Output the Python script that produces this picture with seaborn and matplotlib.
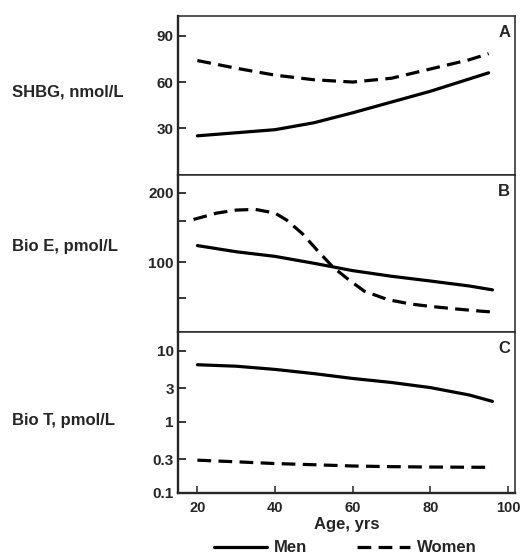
import numpy as np
import pandas as pd
import matplotlib
matplotlib.use("Agg")
import matplotlib.pyplot as plt
from matplotlib.lines import Line2D
from matplotlib.ticker import NullLocator
import seaborn as sns

# Panel A: SHBG, nmol/L
shbg_age_men = [20, 30, 40, 50, 60, 70, 80, 90, 95]
shbg_men = [25, 27, 29, 33.5, 40, 47, 54, 62, 66]
shbg_age_women = [20, 30, 40, 50, 60, 70, 80, 90, 95]
shbg_women = [74, 69, 64.5, 61.5, 60, 62.5, 68.5, 74.5, 78.5]

# Panel B: Bio E, pmol/L
bioe_age_men = [20, 30, 40, 50, 60, 70, 80, 90, 96]
bioe_men = [118, 111, 106, 99, 92, 87, 83, 79, 76]
bioe_age_women = [19, 25, 30, 35, 40, 43, 47, 51, 55, 59, 63, 69, 75, 80, 86, 93, 96]
bioe_women = [153, 163, 168, 169, 163, 152, 133, 112, 95, 84, 75, 69, 66, 64.5, 63, 61.5, 61]

# Panel C: Bio T, pmol/L
biot_age_men = [20, 30, 40, 50, 60, 70, 80, 90, 96]
biot_men = [6.4, 6.1, 5.5, 4.8, 4.1, 3.6, 3.05, 2.4, 1.95]
biot_age_women = [20, 30, 40, 50, 60, 70, 80, 96]
biot_women = [0.29, 0.275, 0.26, 0.25, 0.24, 0.235, 0.232, 0.23]

labels = ["SHBG, nmol/L", "Bio E, pmol/L", "Bio T, pmol/L"]
letters = ["A", "B", "C"]


def make_df(age_m, val_m, age_w, val_w):
    return pd.DataFrame({
        "age": list(age_m) + list(age_w),
        "value": list(val_m) + list(val_w),
        "sex": ["Men"] * len(age_m) + ["Women"] * len(age_w),
    })


frames = [
    make_df(shbg_age_men, shbg_men, shbg_age_women, shbg_women),
    make_df(bioe_age_men, bioe_men, bioe_age_women, bioe_women),
    make_df(biot_age_men, biot_men, biot_age_women, biot_women),
]

sns.set_style("ticks")
plt.rcParams["font.family"] = ["Liberation Sans", "DejaVu Sans"]
plt.rcParams["font.weight"] = "bold"

fig = plt.figure(figsize=(5.21, 5.55), dpi=100)
W, H = 521, 555
left, right = 178, 515
bounds = [(16, 175), (175, 332), (332, 493)]
ylab_y = [92, 246, 421]
dash = (4.3, 2.3)
dash_style = {"Men": "", "Women": dash}

axes = []
for i, (top, bot) in enumerate(bounds):
    ax = fig.add_axes([left / W, 1 - bot / H, (right - left) / W, (bot - top) / H])
    sns.lineplot(data=frames[i], x="age", y="value", style="sex", dashes=dash_style,
                 color="black", linewidth=2.3, estimator=None, legend=False, ax=ax)
    ax.set_xlim(15, 101.8)
    ax.set_xlabel("")
    ax.set_ylabel("")
    for s in ax.spines.values():
        s.set_linewidth(1.1)
        s.set_visible(True)
    ax.spines["left"].set_linewidth(1.7)
    ax.tick_params(axis="y", direction="in", length=6, width=1.3, labelsize=11, pad=3)
    ax.tick_params(axis="x", direction="in", length=5, width=1.1, labelsize=10.5, pad=6)
    ax.text(0.968, 0.895, letters[i], transform=ax.transAxes, ha="center", va="center",
            fontsize=12, fontweight="bold")
    fig.text(12 / W, 1 - ylab_y[i] / H, labels[i], ha="left", va="center",
             fontsize=12, fontweight="bold")
    axes.append(ax)

axA, axB, axC = axes

axA.set_ylim(-0.5, 103)
axA.set_yticks([30, 60, 90])
axA.set_yticklabels(["30", "60", "90"])

axB.set_yscale("log")
axB.set_ylim(50, 238)
axB.set_yticks([100, 200])
axB.set_yticklabels(["100", "200"])
axB.set_yticks([70, 150], minor=True)
axB.set_yticklabels([], minor=True)
axB.tick_params(axis="y", which="minor", direction="in", length=6, width=1.3)

axC.set_yscale("log")
axC.set_ylim(0.1, 18.5)
axC.set_yticks([0.1, 0.3, 1, 3, 10])
axC.set_yticklabels(["0.1", "0.3", "1", "3", "10"])
axC.yaxis.set_minor_locator(NullLocator())
axC.spines["bottom"].set_linewidth(1.7)

for ax in (axA, axB):
    ax.set_xticks([])
axC.set_xticks([20, 40, 60, 80, 100])
axC.set_xticklabels(["20", "40", "60", "80", "100"])
axC.set_xlabel("Age, yrs", fontsize=12, fontweight="bold", labelpad=1)

handles = [
    Line2D([], [], color="black", linewidth=2.3),
    Line2D([], [], color="black", linewidth=2.3, dashes=dash),
]
fig.legend(handles, ["Men", "Women"], loc="center", bbox_to_anchor=(345 / W, 1 - 548 / H),
           ncol=2, frameon=False, fontsize=12, handlelength=3.2, handletextpad=0.4,
           columnspacing=3.0, borderpad=0, borderaxespad=0)

fig.savefig("out.png", dpi=100)
